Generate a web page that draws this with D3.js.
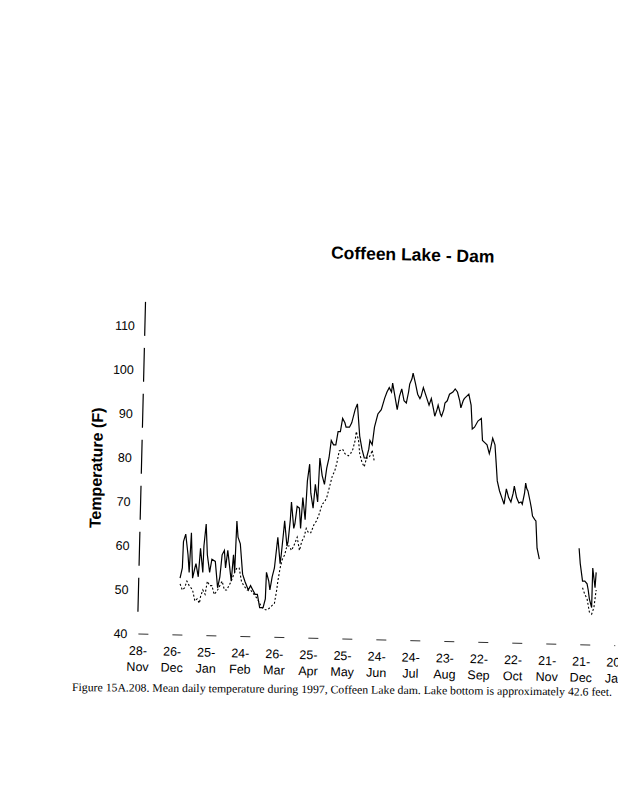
<!DOCTYPE html>
<html>
<head>
<meta charset="utf-8">
<script src="https://d3js.org/d3.v7.min.js"></script>
<style>
	body { margin: 0; background: #fff; }
	svg text { font-family: "Liberation Sans", Arial, sans-serif; fill: #000; }
</style>
</head>
<body>
<svg id="chart"></svg>
<script>

// day of year 1997 (1 = 1-Jan)
let surfaceDay = [2, 4, 5, 7, 9, 10, 12, 13, 15, 16, 18, 20, 22, 23, 25, 26, 28, 30, 33, 35, 37, 39, 41, 42, 44, 47, 49, 50, 52, 53, 55, 57, 59, 62, 64, 66, 68, 70, 72, 75, 77, 78, 80, 81, 83, 85, 88, 90, 91, 93, 94, 96, 97, 99, 100, 102, 103, 105, 107, 108, 110, 112, 114, 116, 117, 119, 121, 123, 125, 127, 129, 131, 133, 135, 137, 139, 141, 143, 145, 147, 148, 151, 153, 156, 158, 160, 162, 164, 166, 168, 169, 171, 173, 176, 179, 182, 184, 186, 188, 189, 191, 193, 195, 197, 199, 201, 203, 204, 206, 207, 209, 211, 213, 214, 216, 219, 221, 223, 225, 226, 228, 229, 231, 232, 234, 235, 237, 239, 242, 244, 246, 248, 249, 251, 252, 254, 256, 258, 259, 261, 264, 267, 268, 270, 272, 274, 275, 277, 279, 280, 281, 283, 285, 287, 289, 291, 293, 295, 296, 298, 300, 302, 303, 305, 306, 307, 308, 310, 311, 312, 314, 315, 316, 318,
	353, 354, 356, 358, 360, 361, 362, 364, 365, 367, 368];
let surfaceTemp = [52.7, 55, 61, 62.7, 58, 54, 63, 52.7, 55, 56, 53, 59.5, 54, 60, 65, 58, 54, 57, 56.5, 50.5, 53, 58, 59, 55, 59, 52, 58, 54, 65.7, 62, 60.5, 53.6, 52, 50, 51, 50, 49, 49, 46, 46, 48, 54, 52, 50, 53, 55, 62, 56, 58, 63, 65.7, 60, 61, 66, 70, 64, 65, 69, 68.6, 64, 71, 66, 74.8, 78.6, 72, 68.6, 74, 70, 80, 76, 74, 77.7, 80, 84, 83, 83, 86, 86, 89, 88, 87, 87, 88, 91, 92.3, 85, 82, 80, 80, 82, 84, 83, 87, 90, 91, 93.6, 95, 96, 95, 97, 94, 91, 94, 95.7, 93, 92.5, 95, 96.8, 98, 99.3, 97, 94.5, 93.5, 94, 96, 93.6, 92, 93.5, 91, 89.5, 91, 92, 90, 89.5, 91, 92.5, 93, 94.5, 95, 95.7, 95, 93, 91.4, 93, 93.5, 94, 94.5, 92, 86.6, 87, 88.4, 89, 84, 83.5, 83, 81, 82, 84.5, 83, 79, 74.8, 72.5, 71, 69.5, 73, 71, 70, 72, 73.6, 71, 69.8, 70, 69.5, 72, 74.3, 73, 72.5, 70, 68.6, 66.8, 66, 65.7, 59.5, 57,
	59.5, 56, 52, 52, 51.4, 50, 48, 46, 55, 50.5, 54];

let bottomDay = [2, 4, 6, 8, 10, 13, 15, 17, 19, 20, 22, 24, 26, 28, 30, 32, 35, 37, 39, 41, 43, 45, 47, 50, 52, 54, 56, 58, 61, 64, 67, 70, 72, 74, 77, 79, 81, 83, 85, 87, 88, 90, 92, 94, 96, 98, 100, 102, 105, 107, 109, 111, 113, 115, 117, 120, 122, 124, 127, 129, 131, 134, 136, 138, 140, 142, 145, 147, 150, 152, 154, 156, 157, 159, 160, 162, 164, 166, 168, 170, 171, 173,
	356, 358, 360, 362, 364, 366, 368];
let bottomTemp = [51.4, 50, 50.5, 52, 51, 50, 47.5, 48, 47, 48.5, 50, 49, 52, 51, 51, 49, 50, 51, 52, 50, 50, 51, 52, 54, 55, 55, 52, 51, 50, 50, 49, 48, 47, 46, 45.5, 45.5, 46, 46.5, 47, 50, 52, 55, 57, 58, 60, 60, 59, 60, 62, 59, 61, 62, 64, 63, 63, 65, 65.7, 67, 69.5, 70, 71, 74, 76, 77, 79, 81.6, 82, 81, 80.5, 81, 82, 84, 86, 84, 81, 79, 78, 80, 80, 81, 81.8, 79,
	50.5, 49, 48, 45, 44.5, 46, 50];

let yTicks = [40, 50, 60, 70, 80, 90, 100, 110];

let xTickDates = ["1996-11-26", "1996-12-26", "1997-01-25", "1997-02-24", "1997-03-26", "1997-04-25", "1997-05-25", "1997-06-24", "1997-07-24", "1997-08-23", "1997-09-22", "1997-10-22", "1997-11-21", "1997-12-21", "1998-01-20"];
let xTickDay = ["28-", "26-", "25-", "24-", "26-", "25-", "25-", "24-", "24-", "23-", "22-", "22-", "21-", "21-", "20-"];
let xTickMonth = ["Nov", "Dec", "Jan", "Feb", "Mar", "Apr", "May", "Jun", "Jul", "Aug", "Sep", "Oct", "Nov", "Dec", "Jan"];


let width = 618;
let height = 800;

let parse = d3.timeParse("%Y-%m-%d");
let jan1 = new Date(1997, 0, 1);
let toDate = (day) => d3.timeDay.offset(jan1, day - 1);

let svg = d3.select("#chart")
	.attr("width", width)
	.attr("height", height);

// the page was scanned crooked: axes and labels are tilted,
// the traces were read straight off the scan so they stay untilted
let frame = svg.append("g")
	.attr("transform", "rotate(1.4, 138, 650)");
let plot = svg.append("g");

let x = d3.scaleTime()
	.domain([parse(xTickDates[0]), parse(xTickDates[xTickDates.length - 1])])
	.range([138, 615.5]);

let y = d3.scaleLinear()
	.domain([40, 110])
	.range([634, 326]);

// title
frame.append("text")
	.attr("x", 403)
	.attr("y", 254)
	.attr("text-anchor", "middle")
	.style("font-size", "17.5px")
	.style("font-weight", "bold")
	.text("Coffeen Lake - Dam");

// y axis title
frame.append("text")
	.attr("transform", "translate(97.5, 469) rotate(-90)")
	.attr("text-anchor", "middle")
	.style("font-size", "16px")
	.style("font-weight", "bold")
	.text("Temperature (F)");

// y axis (line is broken up in the scan)
frame.append("line")
	.attr("x1", 137).attr("x2", 137)
	.attr("y1", y(115.5)).attr("y2", y(43))
	.attr("stroke", "#000")
	.attr("stroke-width", 1.2)
	.attr("stroke-dasharray", "34,12");

frame.selectAll(".ylab")
	.data(yTicks)
	.enter()
	.append("text")
		.attr("class", "ylab")
		.attr("x", 127)
		.attr("y", (d) => y(d))
		.attr("dy", "0.35em")
		.attr("text-anchor", "end")
		.style("font-size", "12.5px")
		.text((d) => d);

// x axis, barely survives in the scan
frame.append("line")
	.attr("x1", 138).attr("x2", 615)
	.attr("y1", y(40)).attr("y2", y(40))
	.attr("stroke", "#000")
	.attr("stroke-width", 0.8)
	.attr("stroke-dasharray", "10,24");

let xlab = frame.selectAll(".xlab")
	.data(xTickDates)
	.enter()
	.append("text")
		.attr("class", "xlab")
		.attr("text-anchor", "middle")
		.style("font-size", "12.5px");

xlab.append("tspan")
	.attr("x", (d) => x(parse(d)))
	.attr("y", 655)
	.text((d, i) => xTickDay[i]);

xlab.append("tspan")
	.attr("x", (d) => x(parse(d)))
	.attr("y", 671)
	.text((d, i) => xTickMonth[i]);

// split a series where days are missing
function segments(days, temps) {
	let out = [];
	let cur = [];
	days.forEach((d, i) => {
		if (i > 0 && d - days[i - 1] > 10) {
			out.push(cur);
			cur = [];
		}
		cur.push({date: toDate(d), t: temps[i]});
	});
	out.push(cur);
	return out;
}

let line = d3.line()
	.x((d) => x(d.date))
	.y((d) => y(d.t));

// bottom (dotted)
plot.selectAll(".bottom")
	.data(segments(bottomDay, bottomTemp))
	.enter()
	.append("path")
		.attr("class", "bottom")
		.attr("d", line)
		.attr("fill", "none")
		.attr("stroke", "#000")
		.attr("stroke-width", 1.1)
		.attr("stroke-dasharray", "2,2");

// surface (solid)
plot.selectAll(".surface")
	.data(segments(surfaceDay, surfaceTemp))
	.enter()
	.append("path")
		.attr("class", "surface")
		.attr("d", line)
		.attr("fill", "none")
		.attr("stroke", "#000")
		.attr("stroke-width", 1.2);

// caption, tilted a little less than the chart
svg.append("text")
	.attr("transform", "rotate(0.5, 72, 691)")
	.attr("x", 72)
	.attr("y", 691)
	.attr("textLength", 540)
	.attr("lengthAdjust", "spacingAndGlyphs")
	.style("font-family", "'Liberation Serif', 'Times New Roman', serif")
	.style("font-size", "11.5px")
	.text("Figure 15A.208. Mean daily temperature during 1997, Coffeen Lake dam. Lake bottom is approximately 42.6 feet.");

</script>
</body>
</html>
